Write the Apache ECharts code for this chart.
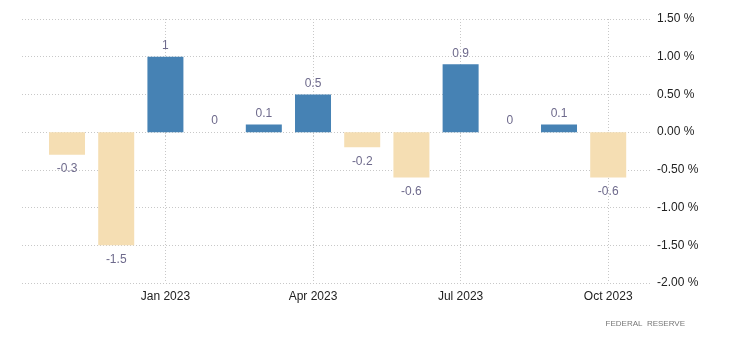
<!DOCTYPE html>
<html>
<head>
<meta charset="utf-8">
<script src="https://cdn.jsdelivr.net/npm/echarts@6/dist/echarts.min.js"></script>
<style>
html, body { margin: 0; padding: 0; background: #fff; }
#main { width: 730px; height: 351px; }
</style>
</head>
<body>
<div id="main"></div>
<script>
// monthly change, Nov 2022 .. Oct 2023
var months = ['Nov 2022', 'Dec 2022', 'Jan 2023', 'Feb 2023', 'Mar 2023', 'Apr 2023',
	'May 2023', 'Jun 2023', 'Jul 2023', 'Aug 2023', 'Sep 2023', 'Oct 2023'];
var values = [-0.3, -1.5, 1, 0, 0.1, 0.5, -0.2, -0.6, 0.9, 0, 0.1, -0.6];
var shownMonths = ['Jan 2023', 'Apr 2023', 'Jul 2023', 'Oct 2023'];

var chart = echarts.init(document.getElementById('main'));

var tickIdx = shownMonths.map(function (m) { return months.indexOf(m); });
var points = values.map(function (v, i) {
	return {
		value: [i, v],
		itemStyle: { color: v >= 0 ? '#4682b4' : '#f5deb3' },
		label: { position: v >= 0 ? 'top' : 'bottom', distance: v >= 0 ? 5 : 8 }
	};
});

var dotted = { color: '#c8c8c8', type: [1, 2], width: 1 };

chart.setOption({
	animation: false,
	textStyle: { fontFamily: 'Arial, "Liberation Sans", sans-serif' },
	grid: { left: 22, right: 78, top: 19, bottom: 68 },
	xAxis: {
		type: 'value',
		min: -0.915,
		max: 11.89,
		axisLine: { show: false },
		axisTick: { show: true, length: 6, customValues: tickIdx, lineStyle: dotted },
		axisLabel: {
			customValues: tickIdx,
			color: '#222',
			fontSize: 12,
			margin: 8,
			formatter: function (v) { return months[Math.round(v)]; }
		},
		splitLine: { show: true, lineStyle: dotted }
	},
	yAxis: {
		type: 'value',
		position: 'right',
		min: -2,
		max: 1.5,
		interval: 0.5,
		axisLine: { show: false },
		axisTick: { show: false },
		axisLabel: {
			color: '#222',
			fontSize: 12,
			margin: 5,
			formatter: function (v) { return v.toFixed(2) + ' %'; }
		},
		splitLine: { lineStyle: dotted }
	},
	series: [{
		type: 'bar',
		barWidth: 36,
		data: points,
		label: {
			show: true,
			color: '#6e6a8c',
			fontSize: 12,
			formatter: function (p) { return String(p.value[1]); }
		}
	}],
	graphic: [{
		type: 'text',
		right: 45,
		top: 320,
		style: { text: 'FEDERAL  RESERVE', fill: '#777', font: '8px Arial, "Liberation Sans", sans-serif' }
	}]
});
</script>
</body>
</html>
